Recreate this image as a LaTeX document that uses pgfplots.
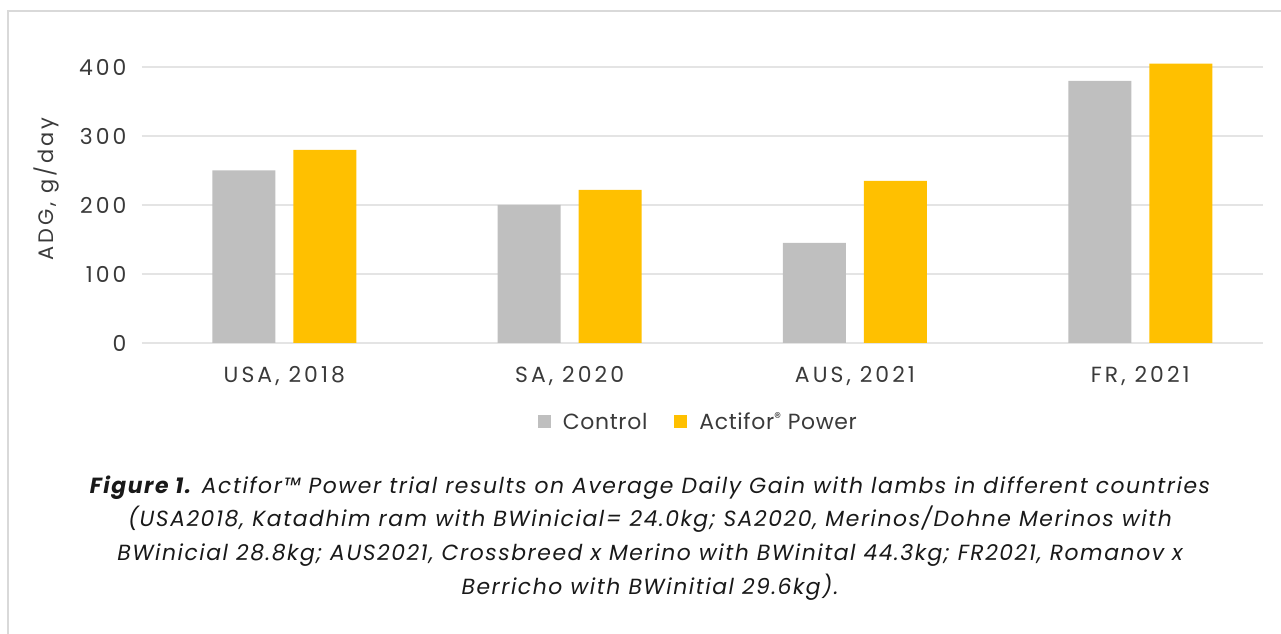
\documentclass[border=0pt]{standalone}
\usepackage{pgfplots}
\pgfplotsset{compat=1.18}
\usepackage{fontspec}
\setmainfont{Poppins}
\newfontfamily\tickfont[LetterSpace=14]{Poppins}
\newfontfamily\legfont[LetterSpace=3]{Poppins}
\newfontfamily\capfont[LetterSpace=7]{Poppins}
\definecolor{ctrl}{HTML}{BFBFBF}
\definecolor{act}{HTML}{FFC000}
\definecolor{gridc}{HTML}{E4E4E4}
\definecolor{framec}{HTML}{D9D9D9}
\definecolor{txt}{HTML}{3A3A3A}
\begin{document}
\begin{tikzpicture}[x=1bp,y=1bp]
\path[use as bounding box] (0,0) rectangle (1281,634);
\draw[framec, line width=1.5bp] (8,0) -- (8,623) -- (1281,623);
\begin{axis}[
  at={(141.7bp,291bp)}, anchor=south west,
  scale only axis, width=1121.3bp, height=276bp,
  xmin=-0.5, xmax=3.43, ymin=0, ymax=400, clip=false,
  ybar=18bp, bar width=63bp,
  xtick={0,1,2,3},
  xticklabels={{USA, 2018},{SA, 2020},{AUS, 2021},{FR, 2021}},
  ytick={0,100,200,300,400},
  /pgf/number format/assume math mode=true,
  ymajorgrids, grid style={gridc, line width=1.6bp},
  axis line style={draw=none}, major tick length=0pt,
  tick label style={font=\tickfont\fontsize{22}{26}\selectfont, text=txt},
  yticklabel style={inner sep=0pt, anchor=east, xshift=-15bp},
  xticklabel style={inner sep=0pt, anchor=north, yshift=-23bp},
  ylabel={ADG, g/day},
  ylabel style={font=\tickfont\fontsize{21}{24}\selectfont, text=txt, at={(axis description cs:-0.0845,0.557)}, anchor=center},
  legend style={at={(axis description cs:0.4965,-0.286)}, anchor=center, draw=none, fill=none,
    legend columns=2, font=\legfont\fontsize{22}{26}\selectfont, text=txt,
    /tikz/every odd column/.append style={column sep=10bp},
    /tikz/every even column/.append style={column sep=25bp}},
  legend image code/.code={\fill[#1] (0bp,-6.5bp) rectangle (13bp,6.5bp);},
]
\addplot[fill=ctrl, draw=none] coordinates {(0,250) (1,200) (2,145) (3,380)};
\addplot[fill=act, draw=none] coordinates {(0,280) (1,222) (2,235) (3,405)};
\legend{Control, Actifor\raisebox{0.55ex}{\fontsize{14}{14}\selectfont ®}\ Power}
\end{axis}
\node[align=center, font=\capfont\fontsize{22}{34}\selectfont\itshape, text=black!90] at (650,96)
{\textbf{Figure 1.} Actifor™ Power trial results on Average Daily Gain with lambs in different countries\\
(USA2018, Katadhim ram with BWinicial= 24.0kg; SA2020, Merinos/Dohne Merinos with\\
BWinicial 28.8kg; AUS2021, Crossbreed x Merino with BWinital 44.3kg; FR2021, Romanov x\\
Berricho with BWinitial 29.6kg).};
\end{tikzpicture}
\end{document}
